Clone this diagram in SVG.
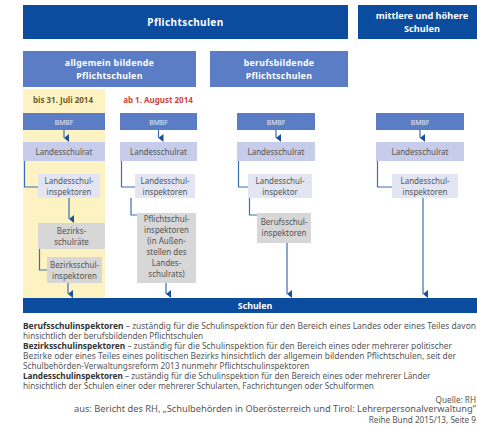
<svg xmlns="http://www.w3.org/2000/svg" width="477" height="430" viewBox="0 0 477 430">
<defs>
<style>
.bar{fill:#0b4c9e}
.mid{fill:#5a7dc5}
.lsr{fill:#c6cce9}
.lsi{fill:#e3e5f2}
.gry{fill:#d7d7d7}
.wt{font-family:"Noto Sans","Liberation Sans",sans-serif;font-weight:bold;fill:#fff;text-anchor:middle}
.bm{font-family:"Noto Sans","Liberation Sans",sans-serif;fill:#e8ecf8;text-anchor:middle;font-size:6.8px}
.bt{font-family:"Noto Sans","Liberation Sans",sans-serif;fill:#555;text-anchor:middle;font-size:8px}
.ft{font-family:"Noto Sans","Liberation Sans",sans-serif;fill:#555;font-size:8.2px}
.fb{font-weight:bold;fill:#333}
.ln{fill:none;stroke:#3b6fb3;stroke-width:1.2}
</style>
<marker id="ah" viewBox="0 0 8 5" refX="4" refY="5" markerWidth="8" markerHeight="5" markerUnits="userSpaceOnUse" orient="auto-start-reverse">
<path d="M0,0 L8,0 L4,5 Z" fill="#1d4f98"/>
</marker>
</defs>
<rect width="477" height="430" fill="#fff"/>
<rect x="23" y="89" width="82" height="210" fill="#fdf3c2"/>

<g id="pflichtschulen"><rect class="bar" x="23" y="5" width="325" height="34"/><text class="wt" x="185.5" y="25.5" font-size="10" letter-spacing="0.4">Pflichtschulen</text></g>
<g id="mittlere"><rect class="bar" x="358" y="5" width="130" height="34"/><text class="wt" x="422" y="19" font-size="9.2">mittlere und höhere</text><text class="wt" x="422" y="31.5" font-size="9.2">Schulen</text></g>
<g id="allgemein"><rect class="mid" x="23" y="51" width="173" height="36"/><text class="wt" x="109.5" y="66" font-size="8.8" letter-spacing="0.3">allgemein bildende</text><text class="wt" x="109.5" y="78.5" font-size="8.8" letter-spacing="0.3">Pflichtschulen</text></g>
<g id="berufsbildende"><rect class="mid" x="210" y="51" width="138" height="36"/><text class="wt" x="279" y="66" font-size="8.8" letter-spacing="0.3">berufsbildende</text><text class="wt" x="279" y="78.5" font-size="8.8" letter-spacing="0.3">Pflichtschulen</text></g>
<g id="datum1"><text x="63" y="103" font-family="Noto Sans,Liberation Sans,sans-serif" font-weight="bold" font-size="8" fill="#6b5d2e" text-anchor="middle">bis 31. Juli 2014</text></g>
<g id="datum2"><text x="158" y="103" font-family="Noto Sans,Liberation Sans,sans-serif" font-weight="bold" font-size="8" fill="#d0453f" text-anchor="middle">ab 1. August 2014</text></g>

<g id="bmbf1"><rect class="mid" x="23" y="113" width="82" height="17"/><text class="bm" x="64" y="124.5">BMBF</text></g>
<g id="bmbf2"><rect class="mid" x="120" y="113" width="77" height="17"/><text class="bm" x="158.5" y="124.5">BMBF</text></g>
<g id="bmbf3"><rect class="mid" x="237" y="113" width="78" height="17"/><text class="bm" x="276" y="124.5">BMBF</text></g>
<g id="bmbf4"><rect class="mid" x="376" y="113" width="88" height="17"/><text class="bm" x="420" y="124.5">BMBF</text></g>

<g id="lsr1"><rect class="lsr" x="23" y="142" width="82" height="19"/><text class="bt" x="64" y="154.5">Landesschulrat</text></g>
<g id="lsr2"><rect class="lsr" x="120" y="142" width="77" height="19"/><text class="bt" x="158.5" y="154.5">Landesschulrat</text></g>
<g id="lsr3"><rect class="lsr" x="237" y="142" width="78" height="19"/><text class="bt" x="276" y="154.5">Landesschulrat</text></g>
<g id="lsr4"><rect class="lsr" x="376" y="142" width="88" height="19"/><text class="bt" x="420" y="154.5">Landesschulrat</text></g>

<g id="lsi1"><rect class="lsi" x="38" y="174" width="62" height="24"/><text class="bt" x="69" y="184">Landesschul-</text><text class="bt" x="69" y="194.5">inspektoren</text></g>
<g id="lsi2"><rect class="lsi" x="135" y="174" width="60" height="24"/><text class="bt" x="165" y="184">Landesschul-</text><text class="bt" x="165" y="194.5">inspektoren</text></g>
<g id="lsi3"><rect class="lsi" x="248" y="174" width="64" height="24"/><text class="bt" x="280" y="184">Landesschul-</text><text class="bt" x="280" y="194.5">inspektor</text></g>
<g id="lsi4"><rect class="lsi" x="392" y="174" width="66" height="24"/><text class="bt" x="425" y="184">Landesschul-</text><text class="bt" x="425" y="194.5">inspektoren</text></g>

<g id="bsr"><rect class="gry" x="38" y="223" width="67" height="26"/><text class="bt" x="71.5" y="233.5">Bezirks-</text><text class="bt" x="71.5" y="244.5">schulräte</text></g>
<g id="bsi"><rect class="gry" x="47" y="257" width="55" height="26"/><text class="bt" x="74.5" y="268">Bezirksschul-</text><text class="bt" x="74.5" y="279">inspektoren</text></g>
<g id="psi"><rect class="gry" x="137" y="213" width="59" height="70"/><text class="bt" x="166.5" y="222">Pflichtschul-</text><text class="bt" x="166.5" y="233">inspektoren</text><text class="bt" x="166.5" y="244">(in Außen-</text><text class="bt" x="166.5" y="255">stellen des</text><text class="bt" x="166.5" y="266">Landes-</text><text class="bt" x="166.5" y="277">schulrats)</text></g>
<g id="bfsi"><rect class="gry" x="257" y="213" width="54" height="30"/><text class="bt" x="284" y="225">Berufsschul-</text><text class="bt" x="284" y="236">inspektoren</text></g>

<g id="schulen"><rect class="bar" x="23" y="298" width="470" height="15"/><text class="wt" x="255" y="309" font-size="8.8">Schulen</text></g>

<g id="connectors">
<path class="ln" d="M64,130 V138" marker-end="url(#ah)"/>
<path class="ln" d="M158.5,130 V138" marker-end="url(#ah)"/>
<path class="ln" d="M276,130 V138" marker-end="url(#ah)"/>
<path class="ln" d="M420,130 V138" marker-end="url(#ah)"/>
<path class="ln" d="M24.5,161 V187 H38"/>
<path class="ln" d="M121.5,161 V187 H135"/>
<path class="ln" d="M238.5,161 V187 H248"/>
<path class="ln" d="M377.5,161 V187 H392"/>
<path class="ln" d="M69,198 V219" marker-end="url(#ah)"/>
<path class="ln" d="M39.5,249 V270 H47"/>
<path class="ln" d="M131,198 V215 H137"/>
<path class="ln" d="M249.5,198 V215 H257"/>
<path class="ln" d="M68,283 V294" marker-end="url(#ah)"/>
<path class="ln" d="M166,283 V294" marker-end="url(#ah)"/>
<path class="ln" d="M287,243 V294" marker-end="url(#ah)"/>
<path class="ln" d="M423,198 V294" marker-end="url(#ah)"/>
</g>

<g id="fussnote">
<text class="ft" x="23" y="329" textLength="453" lengthAdjust="spacingAndGlyphs"><tspan class="fb">Berufsschulinspektoren</tspan> – zuständig für die Schulinspektion für den Bereich eines Landes oder eines Teiles davon</text>
<text class="ft" x="23" y="339">hinsichtlich der berufsbildenden Pflichtschulen</text>
<text class="ft" x="23" y="349" textLength="429" lengthAdjust="spacingAndGlyphs"><tspan class="fb">Bezirksschulinspektoren</tspan> – zuständig für die Schulinspektion für den Bereich eines oder mehrerer politischer</text>
<text class="ft" x="23" y="359" textLength="433" lengthAdjust="spacingAndGlyphs">Bezirke oder eines Teiles eines politischen Bezirks hinsichtlich der allgemein bildenden Pflichtschulen, seit der</text>
<text class="ft" x="23" y="369">Schulbehörden-Verwaltungsreform 2013 nunmehr Pflichtschulinspektoren</text>
<text class="ft" x="23" y="379"><tspan class="fb">Landesschulinspektoren</tspan> – zuständig für die Schulinspektion für den Bereich eines oder mehrerer Länder</text>
<text class="ft" x="23" y="389">hinsichtlich der Schulen einer oder mehrerer Schularten, Fachrichtungen oder Schulformen</text>
<text class="ft" x="476" y="403" text-anchor="end">Quelle: RH</text>
<text class="ft" x="74" y="412" textLength="402" lengthAdjust="spacingAndGlyphs">aus: Bericht des RH, „Schulbehörden in Oberösterreich und Tirol: Lehrerpersonalverwaltung“</text>
<text class="ft" x="476" y="423" text-anchor="end">Reihe Bund 2015/13, Seite 9</text>
</g>
</svg>
